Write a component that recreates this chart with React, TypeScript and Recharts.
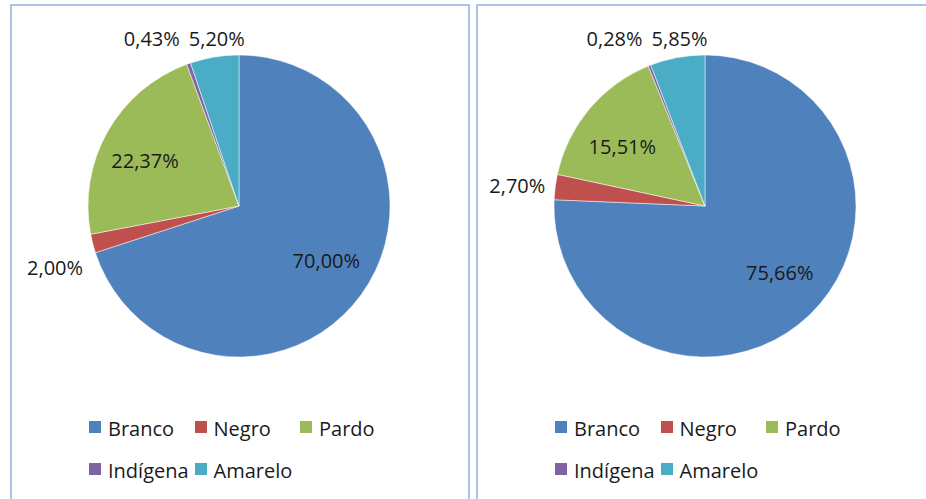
import React from 'react';
import { PieChart, Pie, Cell, Legend } from 'recharts';

const CATEGORIES = ['Branco', 'Negro', 'Pardo', 'Indígena', 'Amarelo'];
const COLORS = ['#4F81BD', '#C0504D', '#9BBB59', '#8064A2', '#4BACC6'];
const VALUES_LEFT = [70.0, 2.0, 22.37, 0.43, 5.2];
const VALUES_RIGHT = [75.66, 2.7, 15.51, 0.28, 5.85];

const FONT = '"Open Sans", "Noto Sans", sans-serif';
const RAD = Math.PI / 180;
const CX = 227;
const CY = 200;
const R = 151;
const LABEL_SPACING = 65;
const TEXT_COLOR = '#1a1a1a';

function fmt(v: number) {
  return v.toFixed(2).replace('.', ',') + '%';
}

function buildData(values: number[]) {
  return CATEGORIES.map((name, i) => ({ name, value: values[i], fill: COLORS[i] }));
}

// layout for outside labels (small slices), with simple collision handling on the top row
function outsideLayout(values: number[], cx: number, cy: number, r: number) {
  const total = values.reduce((a, b) => a + b, 0);
  let cum = 0;
  const items: any[] = values.map((v, i) => {
    const mid = 90 - (360 * (cum + v / 2)) / total;
    cum += v;
    const frac = v / total;
    const c = Math.cos(mid * RAD);
    const s = Math.sin(mid * RAD);
    const px = cx + c * (r + 10);
    const py = cy - s * (r + 10);
    let x = px;
    let y = py;
    let anchor = 'middle';
    let top = false;
    if (s > 0.85) {
      top = true;
      x = px + 4;
      y = cy - r - 17;
    } else if (c < 0) {
      anchor = 'end';
      y = py + Math.max(0, -s) * 85;
    } else {
      anchor = 'start';
      y = py + Math.max(0, -s) * 85;
    }
    return { i, frac, x, y, anchor, top };
  });
  const topItems = items.filter((it) => it.frac < 0.1 && it.top).sort((a, b) => b.x - a.x);
  for (let k = 1; k < topItems.length; k++) {
    const prev = topItems[k - 1];
    if (topItems[k].x > prev.x - LABEL_SPACING) topItems[k].x = prev.x - LABEL_SPACING;
  }
  return items;
}

function makeLabel(values: number[]) {
  return (props: any) => {
    const { cx, cy, midAngle, outerRadius, index, value } = props;
    const total = values.reduce((a, b) => a + b, 0);
    const frac = values[index] / total;
    if (frac >= 0.1) {
      const x = cx + Math.cos(-midAngle * RAD) * outerRadius * 0.715;
      const y = cy + Math.sin(-midAngle * RAD) * outerRadius * 0.61;
      return (
        <text x={x} y={y} textAnchor="middle" dominantBaseline="central" fill={TEXT_COLOR} fontSize={20} fontFamily={FONT}>
          {fmt(value)}
        </text>
      );
    }
    const lay = outsideLayout(values, cx, cy, outerRadius)[index];
    return (
      <text x={lay.x} y={lay.y} textAnchor={lay.anchor} dominantBaseline="central" fill={TEXT_COLOR} fontSize={20} fontFamily={FONT}>
        {fmt(value)}
      </text>
    );
  };
}

const renderLegend = (props: any) => {
  const payload = [...(props.payload || [])].sort(
    (a: any, b: any) => CATEGORIES.indexOf(a.value) - CATEGORIES.indexOf(b.value)
  );
  return (
    <div style={{ position: 'relative', width: 456, height: 90, fontFamily: FONT, fontSize: 20 }}>
      {payload.map((e: any, i: number) => {
        const col = i < 3 ? i : i - 3;
        const row = i < 3 ? 0 : 1;
        const left = 77 + col * 105.5;
        const top = row * 42;
        const ci = CATEGORIES.indexOf(e.value);
        return (
          <div key={i} style={{ position: 'absolute', left, top, height: 27 }}>
            <div style={{ position: 'absolute', left: 0, top: 6.5, width: 12, height: 12, background: COLORS[ci] || e.color }} />
            <span style={{ position: 'absolute', left: 19, top: 0, whiteSpace: 'nowrap', lineHeight: '27px', color: TEXT_COLOR }}>
              {e.value}
            </span>
          </div>
        );
      })}
    </div>
  );
};

function PiePanel({ values }: { values: number[] }) {
  const data = buildData(values);
  return (
    <PieChart width={456} height={495} margin={{ top: 0, right: 0, bottom: 0, left: 0 }}>
      <Pie
        data={data}
        dataKey="value"
        nameKey="name"
        cx={CX}
        cy={CY}
        outerRadius={R}
        startAngle={90}
        endAngle={-270}
        stroke="#ffffff"
        strokeWidth={0.5}
        label={makeLabel(values)}
        labelLine={false}
        isAnimationActive={false}
      >
        {data.map((d, i) => (
          <Cell key={d.name} fill={COLORS[i]} />
        ))}
      </Pie>
      <Legend
        verticalAlign="bottom"
        content={renderLegend}
        wrapperStyle={{ position: 'absolute', left: 0, top: 408.5, bottom: 'auto', width: 456, height: 90 }}
      />
    </PieChart>
  );
}

const panelStyle: React.CSSProperties = {
  position: 'absolute',
  top: 4,
  border: '2px solid #adc3ea',
  background: '#ffffff',
  height: 520,
  boxSizing: 'content-box',
};

export default function App() {
  return (
    <div style={{ position: 'fixed', left: 0, top: 0, width: 926, height: 499, overflow: 'hidden', background: '#ffffff' }}>
      <div style={{ ...panelStyle, left: 10, width: 456 }}>
        <PiePanel values={VALUES_LEFT} />
      </div>
      <div style={{ ...panelStyle, left: 476, width: 470 }}>
        <PiePanel values={VALUES_RIGHT} />
      </div>
    </div>
  );
}
